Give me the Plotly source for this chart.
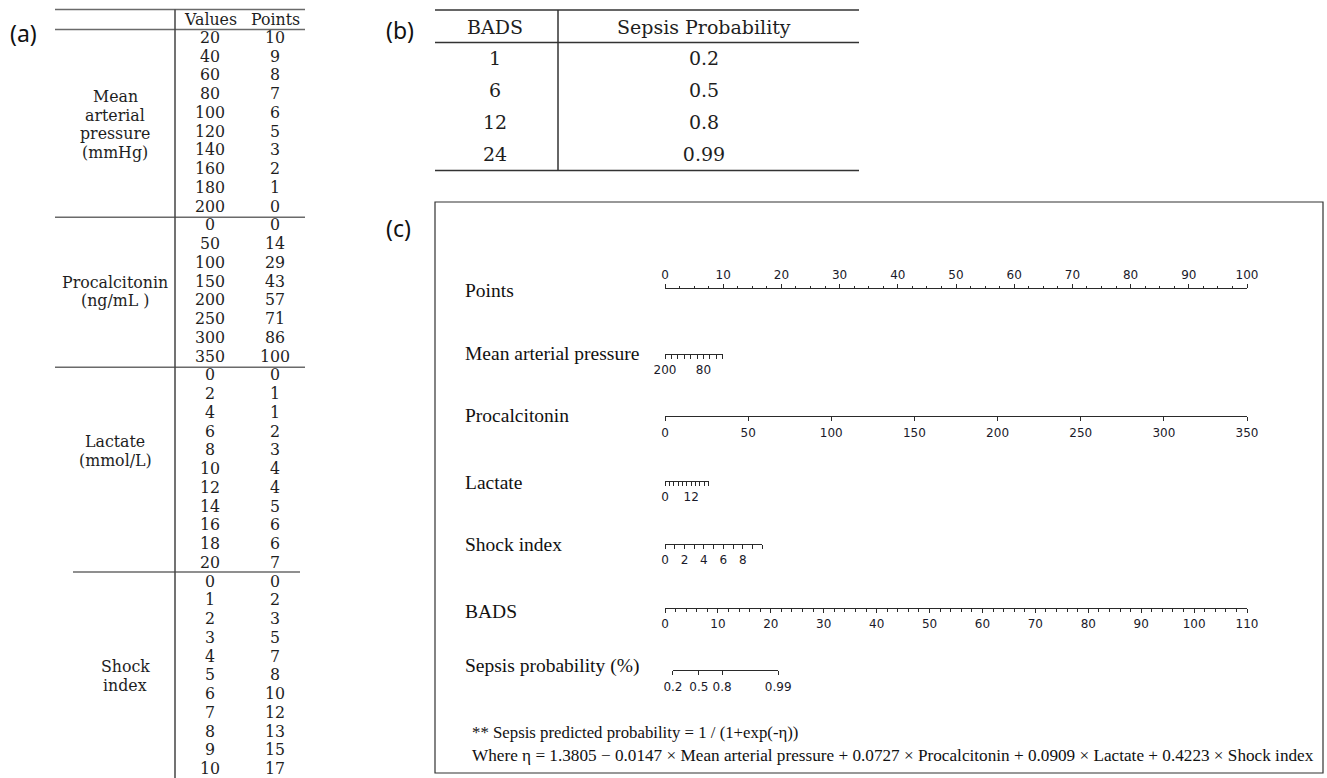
import numpy as np
import plotly.graph_objects as go

W, H = 1327, 778

# ---------------- Panel (a): points table ----------------
MAP_VALUES = [20, 40, 60, 80, 100, 120, 140, 160, 180, 200]
MAP_POINTS = [10, 9, 8, 7, 6, 5, 3, 2, 1, 0]
PCT_VALUES = [0, 50, 100, 150, 200, 250, 300, 350]
PCT_POINTS = [0, 14, 29, 43, 57, 71, 86, 100]
LAC_VALUES = [0, 2, 4, 6, 8, 10, 12, 14, 16, 18, 20]
LAC_POINTS = [0, 1, 1, 2, 3, 4, 4, 5, 6, 6, 7]
SI_VALUES = [0, 1, 2, 3, 4, 5, 6, 7, 8, 9, 10]
SI_POINTS = [0, 2, 3, 5, 7, 8, 10, 12, 13, 15, 17]
GROUP_LABELS = [["Mean", "arterial", "pressure", "(mmHg)"],
                ["Procalcitonin", "(ng/mL )"],
                ["Lactate", "(mmol/L)"],
                ["Shock", "index"]]
TABLE_A_HEADER = ["Values", "Points"]

# ---------------- Panel (b): BADS -> probability ----------------
TABLE_B_HEADER = ["BADS", "Sepsis Probability"]
BADS_SCORES = ["1", "6", "12", "24"]
SEPSIS_PROB = ["0.2", "0.5", "0.8", "0.99"]

# ---------------- Panel (c): nomogram ----------------
NOMO_LABELS = ["Points", "Mean arterial pressure", "Procalcitonin", "Lactate",
               "Shock index", "BADS", "Sepsis probability (%)"]
POINTS_TICKS = [0, 10, 20, 30, 40, 50, 60, 70, 80, 90, 100]
MAP_TICKS = [200, 180, 160, 140, 120, 100, 80, 60, 40, 20]
MAP_TICKTEXT = ["200", "", "", "", "", "", "80", "", "", ""]
MAP_PTS_SPAN = [0, 9.9]          # points at MAP=200 and MAP=20
PCT_TICKS = [0, 50, 100, 150, 200, 250, 300, 350]
PCT_PTS_SPAN = [0, 100]
LAC_TICKS = [0, 2, 4, 6, 8, 10, 12, 14, 16, 18, 20]
LAC_TICKTEXT = ["0", "", "", "", "", "", "12", "", "", "", ""]
LAC_PTS_SPAN = [0, 7.5]
SI_TICKS = [0, 1, 2, 3, 4, 5, 6, 7, 8, 9, 10]
SI_TICKTEXT = ["0", "", "2", "", "4", "", "6", "", "8", "", ""]
SI_PTS_SPAN = [0, 16.7]
BADS_TICKS = [0, 10, 20, 30, 40, 50, 60, 70, 80, 90, 100, 110]
PROB_TICKTEXT = ["0.2", "0.5", "0.8", "0.99"]
PROB_BADS_POS = [1.5, 6.4, 10.8, 21.4]   # BADS position of each probability

FOOT_1 = "** Sepsis predicted probability = 1 / (1+exp(-η))"
FOOT_2 = ("Where η = 1.3805 − 0.0147 × Mean arterial pressure + 0.0727 × Procalcitonin "
          "+ 0.0909 × Lactate + 0.4223 × Shock index")

SERIF = "Liberation Serif"
WSERIF = "DejaVu Serif"
SANS = "DejaVu Sans"
INK = "#1e1e1e"

fig = go.Figure()
shapes = []
annotations = []

# ============ Panel (a) ============
ROW0, STEP = 39.0, 18.75
VAL_X, PTS_X = 210, 275
groups = [(MAP_VALUES, MAP_POINTS), (PCT_VALUES, PCT_POINTS),
          (LAC_VALUES, LAC_POINTS), (SI_VALUES, SI_POINTS)]
vals, pts, ys = [], [], []
i = 0
for gv, gp in groups:
    for v, p in zip(gv, gp):
        vals.append(str(v)); pts.append(str(p)); ys.append(ROW0 + STEP * i)
        i += 1
TA_FONT = dict(family=WSERIF, size=15.8, color=INK)
fig.add_trace(go.Scatter(x=[VAL_X] * len(vals), y=ys, text=vals, mode="text",
                         textfont=TA_FONT, cliponaxis=False,
                         hoverinfo="skip", showlegend=False, xaxis="x", yaxis="y"))
fig.add_trace(go.Scatter(x=[PTS_X] * len(pts), y=ys, text=pts, mode="text",
                         textfont=TA_FONT, cliponaxis=False,
                         hoverinfo="skip", showlegend=False, xaxis="x", yaxis="y"))
for hx, ht in zip([VAL_X, PTS_X], TABLE_A_HEADER):
    annotations.append(dict(x=hx, y=19.5, xref="x", yref="y", text=ht, showarrow=False,
                            font=TA_FONT, xanchor="center", yanchor="middle"))
GROUP_CY = [124.5, 291.3, 451.0, 676.0]
GROUP_CX = [115, 115, 115, 125]
for lines, cy, cx in zip(GROUP_LABELS, GROUP_CY, GROUP_CX):
    n = len(lines)
    for k, t in enumerate(lines):
        annotations.append(dict(x=cx, y=cy + (k - (n - 1) / 2) * 18.4, xref="x", yref="y",
                                text=t, showarrow=False, font=TA_FONT,
                                xanchor="center", yanchor="middle"))
LC = "#6a6a6a"
def hline(y, x0, x1, color=LC, w=1.5):
    shapes.append(dict(type="line", xref="x", yref="y", x0=x0, x1=x1, y0=y, y1=y,
                       line=dict(color=color, width=w)))
def vline(x, y0, y1, color=LC, w=1.5):
    shapes.append(dict(type="line", xref="x", yref="y", x0=x, x1=x, y0=y0, y1=y1,
                       line=dict(color=color, width=w)))
hline(9.5, 55, 305)
hline(29.5, 55, 305)
hline(ROW0 + STEP * 9.5, 55, 305)
hline(ROW0 + STEP * 17.5, 55, 305)
hline(ROW0 + STEP * 28.5 - 1.5, 73, 300)
vline(175, 9.5, 778, color="#444444")
PANEL_FONT = dict(family="Noto Sans", size=23, color="#111")
annotations.append(dict(x=23, y=33, xref="x", yref="y", text="(a)", showarrow=False,
                        font=PANEL_FONT, xanchor="center", yanchor="middle"))

# ============ Panel (b) ============
B_ROW0, B_STEP = 60.0, 32.2
B_C1, B_C2 = 495, 704
b_ys = [B_ROW0 + B_STEP * k for k in range(len(BADS_SCORES))]
TB_FONT = dict(family=WSERIF, size=19, color=INK)
fig.add_trace(go.Scatter(x=[B_C1] * len(BADS_SCORES), y=b_ys, text=BADS_SCORES, mode="text",
                         textfont=TB_FONT, hoverinfo="skip", showlegend=False,
                         xaxis="x", yaxis="y"))
fig.add_trace(go.Scatter(x=[B_C2] * len(SEPSIS_PROB), y=b_ys, text=SEPSIS_PROB, mode="text",
                         textfont=TB_FONT, hoverinfo="skip", showlegend=False,
                         xaxis="x", yaxis="y"))
for hx, ht in zip([B_C1, B_C2], TABLE_B_HEADER):
    annotations.append(dict(x=hx, y=27, xref="x", yref="y", text=ht, showarrow=False,
                            font=TB_FONT, xanchor="center", yanchor="middle"))
hline(10, 435, 859, color="#333", w=1.5)
hline(42.5, 435, 859, color="#333", w=1.5)
hline(170.5, 435, 859, color="#333", w=1.5)
vline(558, 10, 170.5, color="#333", w=1.5)
annotations.append(dict(x=400, y=30, xref="x", yref="y", text="(b)", showarrow=False,
                        font=PANEL_FONT, xanchor="center", yanchor="middle"))

# ============ Panel (c) ============
shapes.append(dict(type="rect", xref="x", yref="y", x0=435, x1=1323, y0=202, y1=773,
                   line=dict(color="#333", width=1.2)))
annotations.append(dict(x=398, y=228, xref="x", yref="y", text="(c)", showarrow=False,
                        font=PANEL_FONT, xanchor="center", yanchor="middle"))

P0, P1 = 665.0, 1247.0
def xp(p):      # points scale -> paper fraction
    return (P0 + p * (P1 - P0) / 100.0) / W
def xt(v):      # total points (BADS) scale -> paper fraction
    return (P0 + v * (P1 - P0) / 110.0) / W

rows = [
    dict(y=289, side="top", rng=[0, 100], dom=[xp(0), xp(100)],
         tv=POINTS_TICKS, tt=[str(t) for t in POINTS_TICKS], standoff=0,
         minor=dict(tickmode="linear", tick0=0, dtick=2.5, ticklen=2)),
    dict(y=354, side="bottom", rng=[MAP_TICKS[0], MAP_TICKS[-1]],
         dom=[xp(MAP_PTS_SPAN[0]), xp(MAP_PTS_SPAN[1])], tv=MAP_TICKS, tt=MAP_TICKTEXT,
         standoff=1),
    dict(y=416, side="bottom", rng=[PCT_TICKS[0], PCT_TICKS[-1]],
         dom=[xp(PCT_PTS_SPAN[0]), xp(PCT_PTS_SPAN[1])], tv=PCT_TICKS,
         tt=[str(t) for t in PCT_TICKS], standoff=2),
    dict(y=481, side="bottom", rng=[LAC_TICKS[0], LAC_TICKS[-1]],
         dom=[xp(LAC_PTS_SPAN[0]), xp(LAC_PTS_SPAN[1])], tv=LAC_TICKS, tt=LAC_TICKTEXT,
         standoff=1),
    dict(y=544, side="bottom", rng=[SI_TICKS[0], SI_TICKS[-1]],
         dom=[xp(SI_PTS_SPAN[0]), xp(SI_PTS_SPAN[1])], tv=SI_TICKS, tt=SI_TICKTEXT,
         standoff=1),
    dict(y=608, side="bottom", rng=[0, 110], dom=[xt(0), xt(110)],
         tv=BADS_TICKS, tt=[str(t) for t in BADS_TICKS], standoff=1,
         minor=dict(tickmode="linear", tick0=0, dtick=2, ticklen=3)),
    dict(y=670, side="bottom", rng=[PROB_BADS_POS[0], PROB_BADS_POS[-1]],
         dom=[xt(PROB_BADS_POS[0]), xt(PROB_BADS_POS[-1])], tv=PROB_BADS_POS,
         tt=PROB_TICKTEXT, standoff=2),
]
LABEL_Y = [290, 353, 415, 482, 544, 611, 666]

layout_axes = {}
AX = "#2a2a2a"
for k, (r, lab, ly) in enumerate(zip(rows, NOMO_LABELS, LABEL_Y)):
    n = k + 2
    yf = 1 - r["y"] / H
    ydom = [yf, yf + 0.02] if r["side"] == "bottom" else [yf - 0.02, yf]
    xa = dict(domain=r["dom"], range=r["rng"], anchor=f"y{n}", side=r["side"],
              tickmode="array", tickvals=r["tv"], ticktext=r["tt"], tickangle=0,
              ticks="outside", ticklen=4, tickwidth=1, tickcolor=AX,
              showline=True, linecolor=AX, linewidth=1, showgrid=False, zeroline=False,
              tickfont=dict(family=SANS, size=12, color="#1a1a2a"),
              ticklabelstandoff=r["standoff"], fixedrange=True, automargin=False)
    if "minor" in r:
        m = dict(r["minor"]); m.update(tickwidth=1, tickcolor=AX, showgrid=False, ticks="outside")
        xa["minor"] = m
    ya = dict(domain=ydom, range=[0, 1], anchor=f"x{n}", visible=False, fixedrange=True,
              automargin=False)
    layout_axes[f"xaxis{n}"] = xa
    layout_axes[f"yaxis{n}"] = ya
    fig.add_trace(go.Scatter(x=r["tv"], y=[0.5] * len(r["tv"]), mode="markers",
                             marker=dict(opacity=0, size=1), hoverinfo="skip",
                             showlegend=False, xaxis=f"x{n}", yaxis=f"y{n}"))
    annotations.append(dict(x=463, y=ly, xref="x", yref="y", text=lab, showarrow=False,
                            font=dict(family=SERIF, size=19.5, color="#111"),
                            xanchor="left", yanchor="middle"))

annotations.append(dict(x=470, y=732, xref="x", yref="y", text=FOOT_1, showarrow=False,
                        font=dict(family=SERIF, size=16.8, color="#111"),
                        xanchor="left", yanchor="middle"))
annotations.append(dict(x=470, y=755, xref="x", yref="y", text=FOOT_2, showarrow=False,
                        font=dict(family=SERIF, size=17.2, color="#111"),
                        xanchor="left", yanchor="middle"))

fig.update_layout(
    width=W, height=H, autosize=False,
    margin=dict(l=0, r=0, t=0, b=0, pad=0, autoexpand=False),
    paper_bgcolor="white", plot_bgcolor="rgba(0,0,0,0)",
    showlegend=False,
    xaxis=dict(domain=[0, 1], range=[0, W], visible=False, fixedrange=True, automargin=False),
    yaxis=dict(domain=[0, 1], range=[H, 0], visible=False, fixedrange=True, automargin=False),
    shapes=shapes, annotations=annotations,
    **layout_axes,
)
fig.write_html(
    "out.html",
    config={"responsive": False, "displayModeBar": False},
    post_script=("document.documentElement.style.overflow='hidden';"
                 "document.body.style.margin='0';document.body.style.padding='0';"
                 "document.body.style.overflow='hidden';"),
)
